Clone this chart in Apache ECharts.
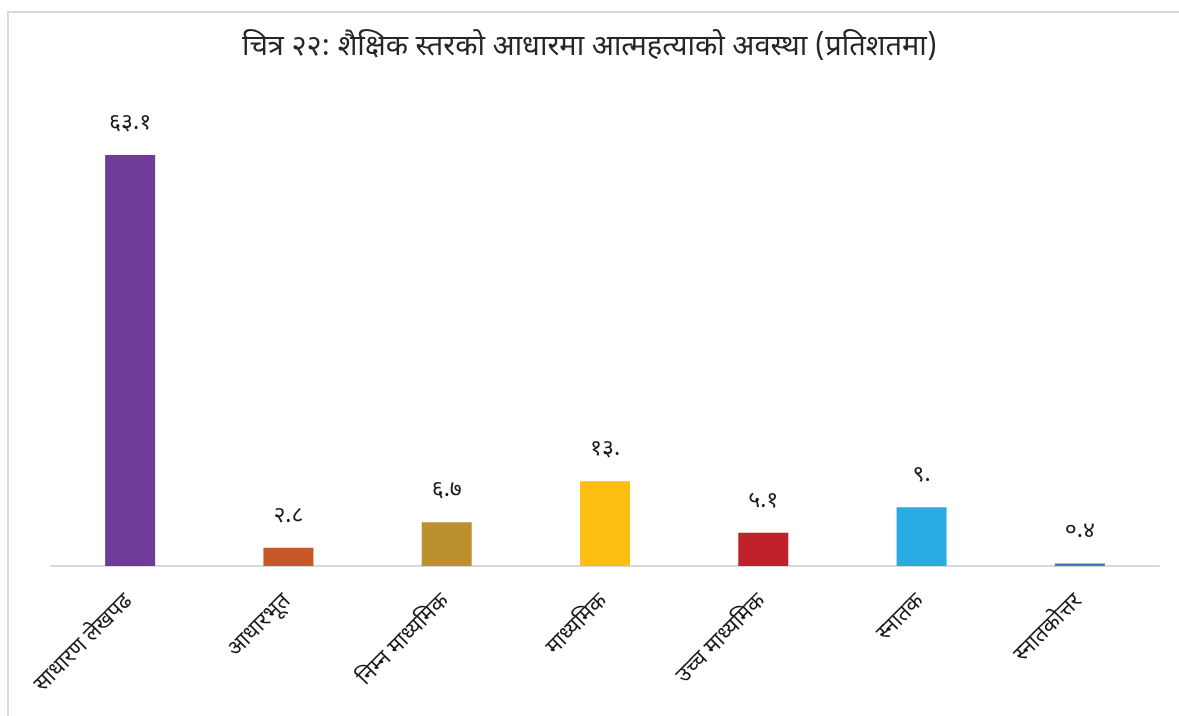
<!DOCTYPE html>
<html>
<head>
<meta charset="utf-8">
<script src="https://cdn.jsdelivr.net/npm/echarts@6/dist/echarts.min.js"></script>
<style>
  html, body { margin: 0; padding: 0; background: #ffffff; }
  #chart { width: 1179px; height: 716px; }
</style>
</head>
<body>
<div id="chart"></div>
<script>
// Suicide by education level (percent)
const titleText = 'चित्र २२: शैक्षिक स्तरको आधारमा आत्महत्याको अवस्था (प्रतिशतमा)';
const categories = ['साधारण लेखपढ', 'आधारभूत', 'निम्न माध्यमिक', 'माध्यमिक', 'उच्च माध्यमिक', 'स्नातक', 'स्नातकोत्तर'];
const values = [63.1, 2.8, 6.7, 13, 5.1, 9, 0.4];
const barColors = ['#703a98', '#c55a28', '#bd902f', '#fdbf12', '#c0212a', '#29abe3', '#4472c4'];

const FONT = '"Noto Sans Devanagari", "Noto Sans", "DejaVu Sans", sans-serif';
const devDigits = ['०', '१', '२', '३', '४', '५', '६', '७', '८', '९'];

// value -> Devanagari numerals; whole numbers keep a trailing point
function toDevanagari(v) {
  let s = String(v);
  if (s.indexOf('.') < 0) s += '.';
  return s.replace(/[0-9]/g, d => devDigits[+d]);
}

const chart = echarts.init(document.getElementById('chart'), null, { renderer: 'canvas' });
chart.setOption({
  backgroundColor: '#ffffff',
  animation: false,
  graphic: [{
    type: 'rect',
    silent: true,
    shape: { x: 8, y: 12, width: 1200, height: 760 },
    style: { fill: 'none', stroke: '#d9d9d9', lineWidth: 2 }
  }],
  title: {
    text: titleText,
    left: 'center',
    top: 30,
    textStyle: { fontFamily: FONT, fontSize: 29, fontWeight: 'normal', color: '#262626' }
  },
  grid: { left: 51, right: 20, top: 110, bottom: 150, containLabel: false },
  xAxis: {
    type: 'category',
    data: categories,
    axisLine: { show: true, lineStyle: { color: '#d9d9d9', width: 2 } },
    axisTick: { show: false },
    axisLabel: {
      rotate: 45,
      interval: 0,
      margin: 33,
      fontFamily: FONT,
      fontSize: 22,
      color: '#1a1a1a'
    }
  },
  yAxis: {
    type: 'value',
    min: 0,
    max: 70,
    show: false,
    splitLine: { show: false }
  },
  series: [{
    type: 'bar',
    data: values.map((v, i) => ({ value: v, itemStyle: { color: barColors[i] } })),
    barWidth: 50,
    label: {
      show: true,
      position: 'top',
      distance: 19,
      fontFamily: FONT,
      fontSize: 23,
      color: '#1a1a1a',
      formatter: p => toDevanagari(p.value)
    }
  }]
});
</script>
</body>
</html>
